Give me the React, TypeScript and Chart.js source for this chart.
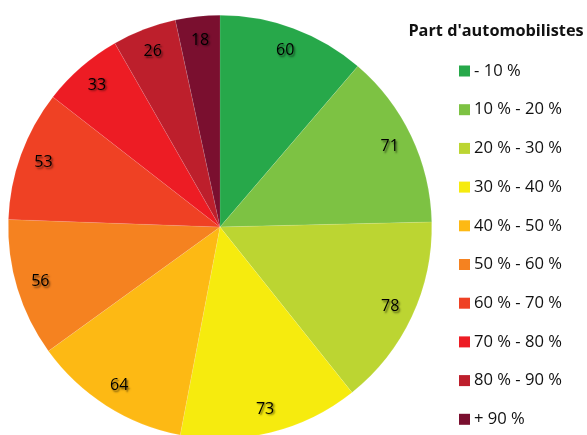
import React, { useEffect, useRef } from "react";
import { Chart, registerables } from "chart.js";

Chart.register(...registerables);

const legendTitle = "Part d'automobilistes";
const categories = [
  "- 10 %",
  "10 % - 20 %",
  "20 % - 30 %",
  "30 % - 40 %",
  "40 % - 50 %",
  "50 % - 60 %",
  "60 % - 70 %",
  "70 % - 80 %",
  "80 % - 90 %",
  "+ 90 %",
];
const values = [60, 71, 78, 73, 64, 56, 53, 33, 26, 18];
const colors = [
  "#27A84A",
  "#7DC243",
  "#BCD532",
  "#F6EB0E",
  "#FDB914",
  "#F58220",
  "#EF4124",
  "#ED1C24",
  "#BD1F2C",
  "#7A0F2F",
];

const FONT = "'Open Sans', 'Noto Sans', sans-serif";

const labelPlugin = {
  id: "sliceLabels",
  afterDatasetsDraw(chart: any) {
    const ctx = chart.ctx;
    const meta = chart.getDatasetMeta(0);
    ctx.save();
    ctx.font = `16px ${FONT}`;
    ctx.textAlign = "center";
    ctx.textBaseline = "middle";
    ctx.fillStyle = "#000";
    ctx.shadowColor = "rgba(0,0,0,0.55)";
    ctx.shadowOffsetX = 1.5;
    ctx.shadowOffsetY = 1.5;
    ctx.shadowBlur = 2;
    meta.data.forEach((arc: any, i: number) => {
      const p = arc.getProps(["x", "y", "startAngle", "endAngle", "outerRadius"], true);
      const mid = (p.startAngle + p.endAngle) / 2;
      const r = p.outerRadius * 0.887;
      ctx.fillText(String(values[i]), p.x + Math.cos(mid) * r, p.y + Math.sin(mid) * r);
    });
    ctx.restore();
  },
};

const legendPlugin = {
  id: "sideLegend",
  afterDraw(chart: any) {
    const ctx = chart.ctx;
    const right = chart.chartArea.right;
    ctx.save();
    ctx.fillStyle = "#111";
    ctx.textBaseline = "middle";
    ctx.font = `bold 16.3px ${FONT}`;
    ctx.textAlign = "center";
    ctx.fillText(legendTitle, right + 64, 31);
    ctx.font = `16.6px ${FONT}`;
    ctx.textAlign = "left";
    const step = 38.7;
    categories.forEach((c, i) => {
      const y = 71 + i * step;
      ctx.fillStyle = colors[i];
      ctx.fillRect(right + 27, y - 5.5, 11, 11);
      ctx.fillStyle = "#111";
      ctx.fillText(c, right + 42, y);
    });
    ctx.restore();
  },
};

export default function App() {
  const ref = useRef<HTMLCanvasElement>(null);
  useEffect(() => {
    if (!ref.current) return;
    const chart = new Chart(ref.current, {
      type: "pie",
      data: {
        labels: categories,
        datasets: [
          {
            data: values,
            backgroundColor: colors,
            borderColor: "rgba(255,255,255,0.2)",
            borderWidth: 0.5,
          },
        ],
      },
      options: {
        responsive: false,
        animation: false,
        layout: { padding: { left: 8, top: 15, right: 155, bottom: 21 } },
        plugins: {
          legend: { display: false },
          tooltip: { enabled: false },
        },
      },
      plugins: [labelPlugin, legendPlugin],
    });
    return () => chart.destroy();
  }, []);
  return (
    <div style={{ position: "fixed", left: 0, top: 0, width: 587, height: 460, background: "#fff" }}>
      <canvas ref={ref} width={587} height={460} style={{ width: 587, height: 460 }} />
    </div>
  );
}
